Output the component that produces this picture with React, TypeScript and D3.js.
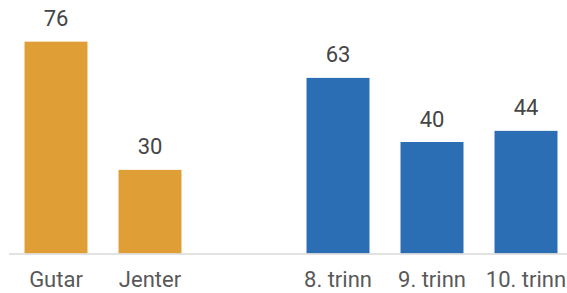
import React from "react";
import * as d3 from "d3";

const categories = ["Gutar", "Jenter", "", "8. trinn", "9. trinn", "10. trinn"];
const values: (number | null)[] = [76, 30, null, 63, 40, 44];
const groups = ["gender", "gender", "none", "grade", "grade", "grade"];
const colors: Record<string, string> = { gender: "#E09F36", grade: "#2C6EB4", none: "none" };

export default function App() {
  const W = 567;
  const H = 293;
  const x = d3
    .scaleBand<number>()
    .domain(d3.range(categories.length))
    .range([9, 573])
    .paddingInner(0.33)
    .paddingOuter(0.165);
  const y = d3.scaleLinear().domain([0, 80]).range([253.5, 30.5]);
  const font = "Roboto, 'DejaVu Sans', sans-serif";
  return (
    <svg width={W} height={H} style={{ position: "absolute", left: 0, top: 0, background: "#fff" }}>
      {values.map((v, i) =>
        v == null ? null : (
          <g key={i}>
            <rect
              x={x(i)!}
              y={y(v)}
              width={x.bandwidth()}
              height={y(0) - y(v)}
              fill={colors[groups[i]]}
            />
            <text
              x={x(i)! + x.bandwidth() / 2}
              y={y(v) - 15.5}
              textAnchor="middle"
              fontFamily={font}
              fontSize={22}
              fill="#454545"
            >
              {v}
            </text>
          </g>
        )
      )}
      <line x1={9} x2={W} y1={y(0) + 0.5} y2={y(0) + 0.5} stroke="#D9D9D9" strokeWidth={1.5} />
      {categories.map((c, i) => (
        <text
          key={i}
          x={x(i)! + x.bandwidth() / 2}
          y={287}
          textAnchor="middle"
          fontFamily={font}
          fontSize={22}
          fill="#595959"
        >
          {c}
        </text>
      ))}
    </svg>
  );
}
